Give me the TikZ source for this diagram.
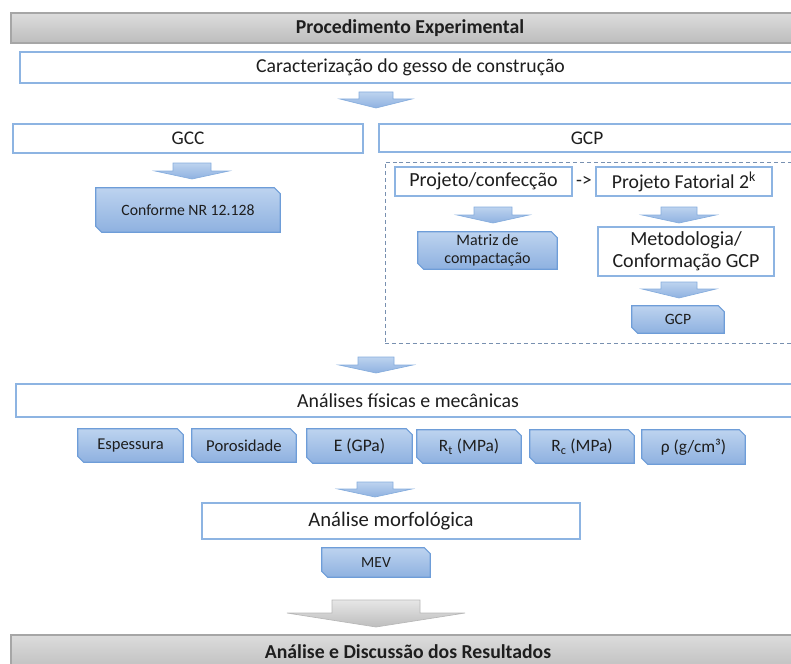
\documentclass[tikz,border=0pt]{standalone}
\usepackage{fontspec}
\setmainfont{Carlito}
\usetikzlibrary{backgrounds}

\definecolor{boxline}{HTML}{8DB4E2}
\definecolor{snipline}{HTML}{6E9DD8}
\definecolor{sniptop}{HTML}{BDD3EF}
\definecolor{snipbot}{HTML}{8EB1E0}
\definecolor{arrline}{HTML}{86ADDD}
\definecolor{graytop}{HTML}{DCDCDC}
\definecolor{graybot}{HTML}{BDBDBD}
\definecolor{grayline}{HTML}{A6A6A6}
\definecolor{dashline}{HTML}{7890B0}
\definecolor{ink}{HTML}{1E1E1E}

\newcommand\fs[2]{\fontsize{#1}{#2}\selectfont}

\tikzset{
  % a node spanning the rectangle x1,y1 -- x2,y2 (pixel units)
  span/.style n args={4}{minimum width={(#3-#1)*0.75pt}, minimum height={(#4-#2)*0.75pt},
    at={({(#1+#3)/2},{(#2+#4)/2})}},
  plainbox/.style={draw=boxline, line width=0.8pt, fill=white, inner sep=0pt, text=ink},
  snipbox/.style={inner sep=0pt, text=ink},
  snipfill/.style={draw=snipline, line width=0.8pt, top color=sniptop, bottom color=snipbot},
  bandbox/.style={draw=grayline, line width=0.8pt, top color=graytop, bottom color=graybot,
    inner sep=0pt, text=ink, font=\bfseries\fontsize{14.8}{17}\selectfont},
  bluearrow/.style={draw=arrline, line width=0.5pt, top color=sniptop, bottom color=snipbot},
  grayarrow/.style={draw=grayline!80, line width=0.5pt, top color=graytop!70, bottom color=graybot},
  groupframe/.style={draw=dashline, line width=0.7pt, dash pattern=on 3pt off 2.2pt, inner sep=0pt},
}

% Outline with the top-right and bottom-left corners snipped off, drawn behind a node
\newcommand\snipoutline[1]{%
  \begin{pgfonlayer}{background}
    \shade[snipfill] (#1.north west) -- ([xshift=-4.5pt]#1.north east)
      -- ([yshift=-4.5pt]#1.north east) -- (#1.south east)
      -- ([xshift=4.5pt]#1.south west) -- ([yshift=4.5pt]#1.south west) -- cycle;
  \end{pgfonlayer}}

% Block arrow: style, centre x, top y, shoulder y, tip y, half shaft width, half head width
\newcommand\blockarrow[7]{%
  \path[#1] (#2-#6,#3) -- (#2+#6,#3) -- (#2+#6,#4) -- (#2+#7,#4) -- (#2,#5)
    -- (#2-#7,#4) -- (#2-#6,#4) -- cycle;}

\begin{document}
\begin{tikzpicture}[x=0.75pt, y=-0.75pt]
  \useasboundingbox (0,0) rectangle (791,663);
  \clip (0,0) rectangle (791,663);

  % title band
  \node[bandbox, span={11}{13}{809}{43}] (title) {Procedimento Experimental};

  % raw material characterisation
  \node[plainbox, font=\fs{14.8}{17}, span={20}{52}{801}{83}] (carac) {Caracterização do gesso de  construção};
  \blockarrow{bluearrow}{376}{92}{99}{108}{17}{36}

  % two branches
  \node[plainbox, font=\fs{14.5}{17}, span={13}{124}{363}{153}] (gcc) {GCC};
  \node[plainbox, font=\fs{14.5}{17}, span={379}{124}{795}{152}] (gcp) {GCP};

  % GCC branch
  \blockarrow{bluearrow}{192}{163}{171}{179}{19}{37}
  \node[snipbox, font=\fs{11.8}{14}, span={96}{188}{280}{232}] (nr) {Conforme NR 12.128};
  \snipoutline{nr}

  % GCP branch, framed
  \node[groupframe, span={385}{162}{796}{343}] (frame) {};
  \node[plainbox, font=\fs{15}{18}, span={395}{167}{572}{196}] (proj) {Projeto/confecção};
  \node[plainbox, font=\fs{14.8}{18}, span={596}{167}{772}{196}] (fat) {Projeto Fatorial 2\textsuperscript{k}};
  \path (proj.east) -- node[text=ink, font=\fs{14.5}{17}, inner sep=0pt] (to) {-{}>} (fat.west);

  \blockarrow{bluearrow}{493}{207}{215}{223}{19}{36}
  \node[snipbox, font=\fs{12}{13.8}, align=center, span={418}{232}{557}{269}] (matriz) {Matriz de\\compactação};
  \snipoutline{matriz}

  \blockarrow{bluearrow}{679}{207}{215}{223}{18}{37}
  \node[plainbox, font=\fs{15}{16.5}, align=center, span={598}{227}{774}{276}] (metod) {Metodologia/\\Conformação GCP};
  \blockarrow{bluearrow}{679}{282}{289}{298}{18}{37}
  \node[snipbox, font=\fs{11.8}{14}, span={632}{306}{724}{333}] (gcpout) {GCP};
  \snipoutline{gcpout}

  % physical and mechanical tests
  \blockarrow{bluearrow}{376}{357}{365}{373}{18}{37}
  \node[plainbox, font=\fs{14.9}{17}, span={16}{384}{800}{417}] (anal) {Análises físicas e mecânicas};
  \node[snipbox, font=\fs{12.4}{14}, span={78}{429}{183}{462}] (esp) {Espessura};
  \node[snipbox, font=\fs{12.5}{14}, span={192}{429}{296}{462}] (poro) {Porosidade};
  \node[snipbox, font=\fs{13.2}{15}, span={307}{429}{412}{463}] (mod) {E (GPa)};
  \node[snipbox, font=\fs{13}{15}, span={417}{430}{521}{463}] (rt) {R\textsubscript{t} (MPa)};
  \node[snipbox, font=\fs{13}{15}, span={530}{430}{634}{463}] (rc) {R\textsubscript{c} (MPa)};
  \node[snipbox, font=\fs{13}{15}, span={642}{430}{745}{464}] (rho) {ρ (g/cm³)};
  \snipoutline{esp}\snipoutline{poro}\snipoutline{mod}
  \snipoutline{rt}\snipoutline{rc}\snipoutline{rho}

  % morphology
  \blockarrow{bluearrow}{375}{482}{489}{497}{18}{37}
  \node[plainbox, font=\fs{15.5}{18}, span={202}{503}{580}{539}] (morf) {Análise morfológica};
  \node[snipbox, font=\fs{11.6}{14}, span={322}{548}{430}{577}] (mev) {MEV};
  \snipoutline{mev}

  % results
  \blockarrow{grayarrow}{376}{600}{613}{627}{44}{89}
  \node[bandbox, span={11}{635}{805}{672}] (res) {};
  \node[text=ink, font=\bfseries\fs{14.8}{17}, anchor=base, inner sep=0pt] (restext) at (408,658) {Análise e Discussão dos Resultados};
\end{tikzpicture}
\end{document}
